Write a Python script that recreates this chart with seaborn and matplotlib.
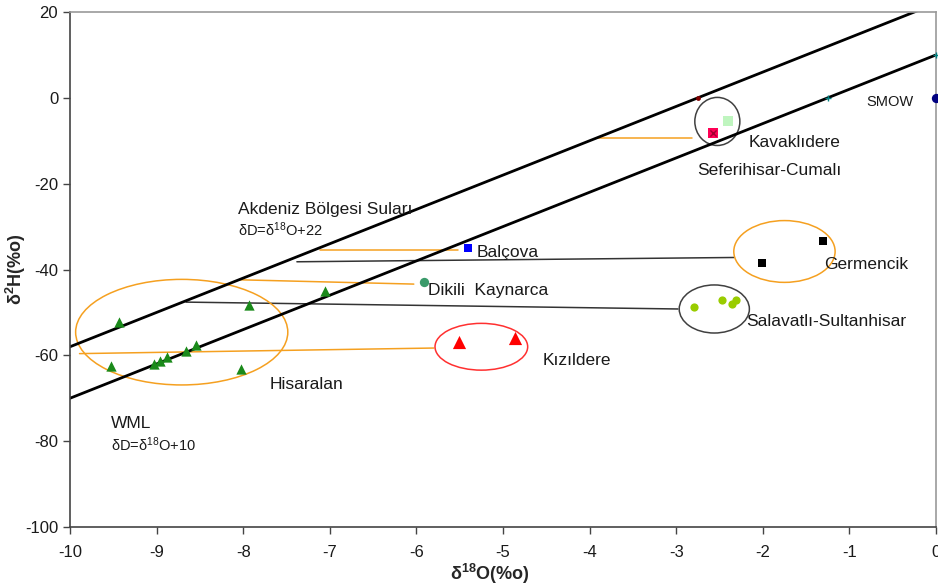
import matplotlib
matplotlib.use("Agg")
import matplotlib.pyplot as plt
from matplotlib.patches import Ellipse
import seaborn as sns

# --- isotope data (δ18O, δ2H) per spring group ---
hisaralan_o = [-9.43, -7.93, -7.05, -9.53, -9.03, -8.96, -8.88, -8.66, -8.54, -8.03]
hisaralan_h = [-52.3, -48.3, -44.9, -62.6, -62.0, -61.4, -60.3, -59.0, -57.6, -63.2]
balcova_o, balcova_h = [-5.40], [-35.0]
dikili_o, dikili_h = [-5.91], [-43.0]
kizildere_o, kizildere_h = [-5.51, -4.86], [-57.0, -56.0]
germencik_o, germencik_h = [-1.31, -2.01], [-33.3, -38.4]
salavatli_o = [-2.80, -2.475, -2.35, -2.31]
salavatli_h = [-48.8, -47.2, -48.1, -47.2]
kavaklidere_o, kavaklidere_h = [-2.58], [-8.1]
seferihisar_o, seferihisar_h = [-2.40], [-5.4]
smow_o, smow_h = [0.0], [0.0]
akdeniz_pt_o, akdeniz_pt_h = [-2.75], [0.0]
wml_pt_o, wml_pt_h = [-1.25, 0.0], [0.0, 10.0]

# meteoric water lines (endpoints)
line_x = [-10, 0]
wml_y = [-70, 10]        # δD = 8·δ18O + 10
akdeniz_y = [-58, 22]    # δD = 8·δ18O + 22

x_ticks = [-10, -9, -8, -7, -6, -5, -4, -3, -2, -1, 0]
y_ticks = [-100, -80, -60, -40, -20, 0, 20]

sns.set_style("white")
plt.rcParams["font.family"] = ["Liberation Sans", "DejaVu Sans"]
plt.rcParams["mathtext.default"] = "regular"

fig = plt.figure(figsize=(9.38, 5.88), dpi=100)
ax = fig.add_axes([70 / 938, 61 / 588, 866 / 938, 515 / 588])
ax.set_xlim(-10, 0)
ax.set_ylim(-100, 20)

# lines
sns.lineplot(x=line_x, y=wml_y, ax=ax, color="black", lw=2, zorder=2)
sns.lineplot(x=line_x, y=akdeniz_y, ax=ax, color="black", lw=2, zorder=2)

# group connector lines
orange = "#f5a020"
conn = [
    ([-7.11, -5.52], [-35.4, -35.4], orange),
    ([-8.04, -6.03], [-42.4, -43.4], orange),
    ([-9.89, -5.80], [-59.6, -58.3], orange),
    ([-3.92, -2.82], [-9.4, -9.4], orange),
    ([-7.38, -2.33], [-38.2, -37.2], "#333333"),
    ([-8.66, -2.98], [-47.6, -49.2], "#333333"),
]
for cx, cy, cc in conn:
    ax.plot(cx, cy, color=cc, lw=1.1, zorder=1)

# ellipses around groups
ells = [
    ((-8.71, -54.6), 2.45, 24.6, orange),
    ((-5.25, -58.0), 1.07, 10.9, "#ff3030"),
    ((-1.75, -35.8), 1.17, 14.4, orange),
    ((-2.56, -49.2), 0.81, 11.2, "#404040"),
    ((-2.525, -5.5), 0.52, 11.2, "#404040"),
]
for c, w, h, col in ells:
    ax.add_patch(Ellipse(c, w, h, fill=False, ec=col, lw=1.1, zorder=1))

# scatter groups
def pts(xs, ys, color, marker, size, **kw):
    sns.scatterplot(x=xs, y=ys, ax=ax, color=color, marker=marker, s=size,
                    linewidth=0, zorder=4, **kw)

pts(hisaralan_o, hisaralan_h, "#1a8a1a", "^", 55)
pts(balcova_o, balcova_h, "#0000ff", "s", 40)
pts(dikili_o, dikili_h, "#3a9a6a", "o", 45)
pts(kizildere_o, kizildere_h, "#ff0000", "^", 90)
pts(germencik_o, germencik_h, "black", "s", 40)
pts(salavatli_o, salavatli_h, "#99cc00", "o", 35)
pts(kavaklidere_o, kavaklidere_h, "#ff0055", "s", 50)
sns.scatterplot(x=kavaklidere_o, y=kavaklidere_h, ax=ax, color="#a00030",
                marker="x", s=20, linewidth=1, zorder=5)
pts(seferihisar_o, seferihisar_h, "#bff5bf", "s", 55)
pts(smow_o, smow_h, "#000080", "o", 45, clip_on=False)
pts(akdeniz_pt_o, akdeniz_pt_h, "#800000", "o", 12)
sns.scatterplot(x=wml_pt_o, y=wml_pt_h, ax=ax, color="#008080", marker="+",
                s=25, linewidth=1, zorder=4, clip_on=False)

# annotations
tc = "#1a1a1a"
fs = 12.5
ax.text(-7.69, -66.7, "Hisaralan", fontsize=fs, color=tc, ha="left", va="center")
ax.text(-4.54, -61.3, "Kızıldere", fontsize=fs, color=tc, ha="left", va="center")
ax.text(-5.87, -44.8, "Dikili  Kaynarca", fontsize=fs, color=tc, ha="left", va="center")
ax.text(-5.31, -36.1, "Balçova", fontsize=fs, color=tc, ha="left", va="center")
ax.text(-1.29, -38.9, "Germencik", fontsize=fs, color=tc, ha="left", va="center")
ax.text(-2.19, -52.0, "Salavatlı-Sultanhisar", fontsize=fs, color=tc, ha="left", va="center")
ax.text(-2.16, -10.3, "Kavaklıdere", fontsize=fs, color=tc, ha="left", va="center")
ax.text(-2.76, -17.0, "Seferihisar-Cumalı", fontsize=fs, color=tc, ha="left", va="center")
ax.text(-0.80, -0.9, "SMOW", fontsize=10.5, color=tc, ha="left", va="center")
ax.text(-8.06, -26.1, "Akdeniz Bölgesi Suları", fontsize=fs, color=tc, ha="left", va="center")
ax.text(-8.06, -30.8, r"δD=δ$^{18}$O+22", fontsize=10.5, color=tc, ha="left", va="center")
ax.text(-9.53, -76.0, "WML", fontsize=fs, color=tc, ha="left", va="center")
ax.text(-9.53, -80.9, r"δD=δ$^{18}$O+10", fontsize=10.5, color=tc, ha="left", va="center")

# axes styling
ax.set_xticks(x_ticks)
ax.set_yticks(y_ticks)
ax.set_xticklabels([str(t) for t in x_ticks])
ax.set_yticklabels([str(t) for t in y_ticks])
ax.tick_params(axis="both", direction="out", length=5, width=1, color="#444444",
               labelsize=12, labelcolor="#1a1a1a", left=True, bottom=True)
ax.tick_params(axis="x", pad=8)
for side in ["left", "bottom"]:
    ax.spines[side].set_color("#444444")
    ax.spines[side].set_linewidth(1.2)
for side in ["top", "right"]:
    ax.spines[side].set_color("#999999")
    ax.spines[side].set_linewidth(1.2)
ax.set_xlabel(r"δ$^{18}$O(%o)", fontsize=13, fontweight="bold")
ax.set_ylabel(r"δ$^{2}$H(%o)", fontsize=13, fontweight="bold")
ax.xaxis.set_label_coords(0.485, -0.068)
ax.yaxis.set_label_coords(-0.048, 0.5)

fig.savefig("out.png", dpi=100)
